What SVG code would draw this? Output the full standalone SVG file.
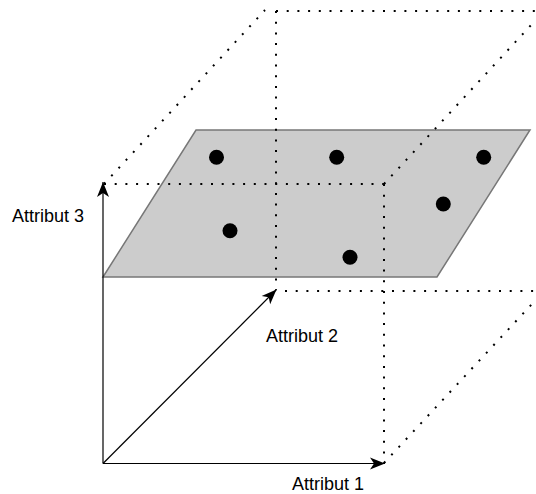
<svg xmlns="http://www.w3.org/2000/svg" width="536" height="494" viewBox="0 0 536 494">
  <style>
    .axis { stroke: #000; stroke-width: 1.2; fill: none; }
    .dot { stroke: #000; stroke-width: 2; stroke-dasharray: 2 8.7; fill: none; }
    .plane { fill: #cccccc; stroke: #777777; stroke-width: 1.5; }
    .pt { fill: #000; }
    .lbl { font-family: "Liberation Sans", Arial, sans-serif; font-size: 18px; fill: #000; }
  </style>
  <defs>
    <marker id="arr" markerUnits="userSpaceOnUse" markerWidth="16" markerHeight="14" refX="15" refY="7" orient="auto">
      <path d="M0,1 L15,7 L0,13 L4,7 Z" fill="#000"/>
    </marker>
  </defs>
  <rect width="536" height="494" fill="#fff"/>
  <g id="plane">
    <polygon class="plane" points="103,277 196,130 530,130 437,277"/>
  </g>
  <g id="points">
    <circle class="pt" cx="216.5" cy="157.3" r="7.5"/>
    <circle class="pt" cx="336.7" cy="157.3" r="7.5"/>
    <circle class="pt" cx="483.7" cy="157.3" r="7.5"/>
    <circle class="pt" cx="443.3" cy="204" r="7.5"/>
    <circle class="pt" cx="230" cy="230.7" r="7.5"/>
    <circle class="pt" cx="350" cy="257.3" r="7.5"/>
  </g>
  <g id="connectors">
    <line class="dot" x1="104" y1="184" x2="384" y2="184"/>
    <line class="dot" x1="104" y1="184" x2="265" y2="10"/>
    <line class="dot" x1="276" y1="11" x2="545" y2="11"/>
    <line class="dot" x1="276" y1="11" x2="276" y2="290"/>
    <line class="dot" x1="384" y1="184" x2="384" y2="463"/>
    <line class="dot" x1="384" y1="184" x2="545" y2="10"/>
    <line class="dot" x1="285" y1="291" x2="545" y2="291"/>
    <line class="dot" x1="384" y1="463" x2="545" y2="290"/>
    <line class="axis" x1="103" y1="463.5" x2="103" y2="182" marker-end="url(#arr)"/>
    <line class="axis" x1="103" y1="463.5" x2="385" y2="463.5" marker-end="url(#arr)"/>
    <line class="axis" x1="103" y1="463.5" x2="276.5" y2="289.5" marker-end="url(#arr)"/>
  </g>
  <g id="labels">
    <text class="lbl" x="12" y="222">Attribut 3</text>
    <text class="lbl" x="266" y="342">Attribut 2</text>
    <text class="lbl" x="292" y="490">Attribut 1</text>
  </g>
</svg>
